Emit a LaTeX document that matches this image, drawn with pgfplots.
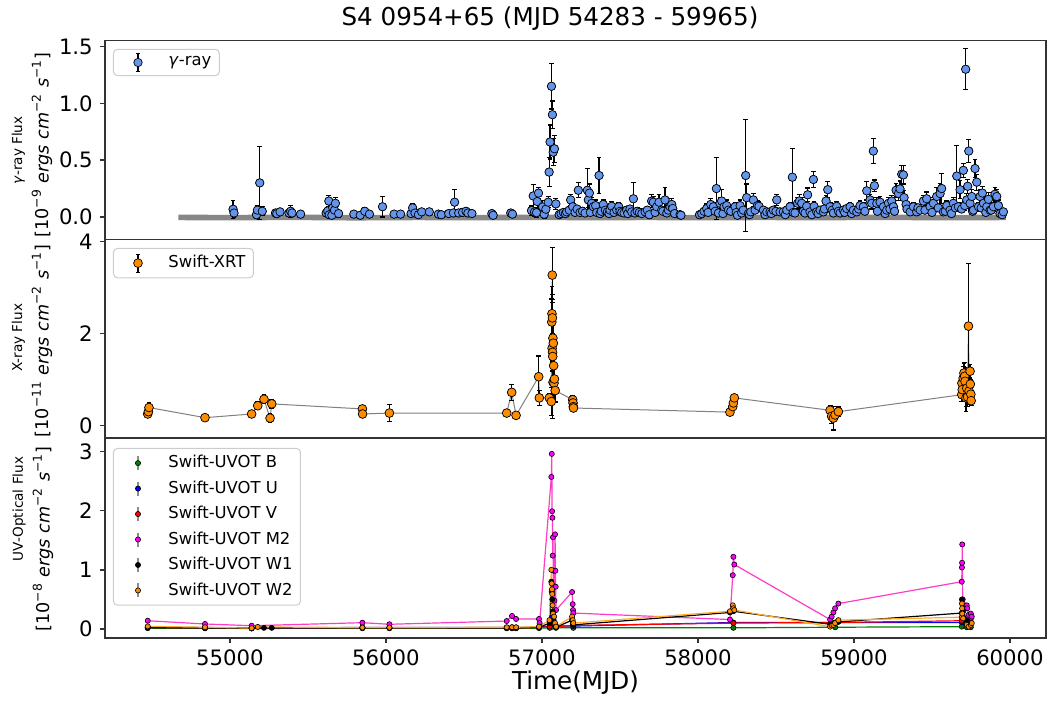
\documentclass[border=0pt]{standalone}
\usepackage{fontspec}
\setmainfont{DejaVu Sans}
\usepackage{pgfplots}
\usepackage{pgfplotstable}
\pgfplotsset{compat=1.18}

\definecolor{gblue}{RGB}{100,149,237}
\definecolor{xorange}{RGB}{255,140,0}
\definecolor{ugreen}{RGB}{0,128,0}
\definecolor{ublue}{RGB}{0,0,255}
\definecolor{ured}{RGB}{255,0,0}
\definecolor{umag}{RGB}{255,0,255}
\definecolor{umagline}{RGB}{255,60,200}
\definecolor{uorline}{RGB}{255,170,40}
\definecolor{lowgray}{RGB}{135,135,135}

% gamma-ray light curve: MJD, flux, error
\pgfplotstableread{
x y e
55020 0.068 0.08
55026 0.035 0.04
55170 0.02 0.03
55176 0.06 0.04
55191 0.30 0.32
55207 0.05 0.04
55292 0.035 0.03
55300 0.03 0.03
55321 0.045 0.03
55378 0.035 0.03
55389 0.05 0.05
55398 0.035 0.03
55453 0.025 0.02
55617 0.035 0.03
55627 0.053 0.03
55634 0.14 0.05
55636 0.02 0.03
55653 0.015 0.02
55659 0.08 0.04
55670 0.06 0.03
55676 0.12 0.05
55696 0.03 0.03
55794 0.025 0.02
55835 0.015 0.02
55864 0.05 0.03
55894 0.025 0.02
55978 0.09 0.09
56052 0.025 0.02
56094 0.025 0.02
56161 0.03 0.02
56171 0.08 0.04
56186 0.035 0.03
56208 0.02 0.02
56229 0.045 0.03
56278 0.045 0.03
56336 0.025 0.02
56355 0.02 0.02
56402 0.03 0.02
56432 0.035 0.03
56440 0.13 0.11
56466 0.035 0.03
56491 0.04 0.03
56513 0.05 0.03
56525 0.035 0.03
56551 0.03 0.02
56679 0.03 0.02
56687 0.015 0.02
56800 0.035 0.03
56811 0.025 0.02
56933 0.056 0.04
56944 0.185 0.1
56952 0.044 0.04
56965 0.038 0.04
56970 0.136 0.06
56978 0.21 0.05
57004 0.088 0.06
57014 0.024 0.04
57025 0.068 0.05
57040 0.13 0.05
57046 0.395 0.13
57052 0.66 0.15
57061 1.15 0.2
57067 0.90 0.12
57072 0.57 0.12
57080 0.60 0.12
57089 0.115 0.05
57110 0.02 0.02
57122 0.03 0.02
57137 0.04 0.02
57150 0.03 0.02
57158 0.045 0.03
57175 0.06 0.03
57184 0.15 0.05
57197 0.09 0.04
57212 0.04 0.03
57225 0.07 0.03
57233 0.235 0.065
57244 0.04 0.03
57260 0.05 0.03
57276 0.035 0.03
57291 0.235 0.19
57297 0.15 0.07
57304 0.21 0.08
57310 0.04 0.03
57319 0.12 0.05
57329 0.09 0.04
57344 0.10 0.05
57351 0.04 0.03
57366 0.365 0.16
57372 0.03 0.03
57380 0.05 0.03
57393 0.11 0.04
57406 0.06 0.03
57419 0.045 0.03
57430 0.03 0.02
57436 0.06 0.03
57447 0.094 0.04
57462 0.04 0.03
57479 0.06 0.03
57492 0.09 0.04
57500 0.05 0.03
57511 0.04 0.03
57526 0.035 0.03
57543 0.06 0.03
57550 0.03 0.02
57564 0.07 0.03
57575 0.045 0.03
57586 0.16 0.14
57596 0.035 0.03
57610 0.05 0.03
57624 0.04 0.03
57640 0.03 0.02
57661 0.045 0.03
57675 0.06 0.03
57688 0.02 0.03
57703 0.14 0.06
57714 0.13 0.05
57725 0.04 0.03
57735 0.09 0.04
57750 0.13 0.07
57767 0.06 0.03
57775 0.05 0.03
57789 0.15 0.11
57800 0.035 0.03
57810 0.06 0.03
57821 0.09 0.04
57832 0.11 0.05
57838 0.075 0.04
57850 0.03 0.02
57885 0.02 0.02
57891 0.015 0.02
58010 0.02 0.02
58024 0.03 0.03
58039 0.05 0.03
58056 0.074 0.04
58065 0.04 0.03
58082 0.11 0.05
58099 0.09 0.04
58110 0.05 0.03
58118 0.25 0.27
58131 0.035 0.03
58141 0.12 0.05
58152 0.14 0.1
58160 0.03 0.02
58167 0.09 0.04
58184 0.10 0.05
58195 0.06 0.03
58210 0.05 0.03
58238 0.09 0.04
58245 0.04 0.03
58253 0.015 0.02
58270 0.10 0.05
58280 0.035 0.03
58290 0.06 0.03
58306 0.365 0.49
58312 0.17 0.12
58323 0.03 0.03
58330 0.02 0.02
58338 0.045 0.03
58355 0.15 0.06
58366 0.06 0.03
58381 0.10 0.04
58391 0.094 0.04
58419 0.06 0.03
58430 0.02 0.02
58441 0.045 0.03
58462 0.045 0.03
58470 0.03 0.02
58483 0.06 0.03
58500 0.05 0.03
58505 0.15 0.05
58526 0.045 0.03
58547 0.045 0.03
58560 0.02 0.02
58569 0.06 0.03
58590 0.09 0.04
58605 0.35 0.25
58610 0.04 0.03
58622 0.035 0.03
58639 0.12 0.05
58650 0.14 0.06
58665 0.12 0.05
58675 0.05 0.03
58686 0.035 0.03
58697 0.094 0.04
58703 0.195 0.06
58718 0.045 0.03
58730 0.02 0.02
58740 0.33 0.07
58744 0.094 0.04
58761 0.045 0.03
58770 0.03 0.02
58783 0.06 0.03
58804 0.045 0.03
58810 0.07 0.03
58821 0.14 0.05
58832 0.24 0.07
58847 0.09 0.04
58860 0.06 0.03
58868 0.035 0.03
58889 0.094 0.04
58900 0.05 0.03
58911 0.035 0.03
58932 0.06 0.03
58940 0.04 0.03
58953 0.074 0.03
58975 0.09 0.04
58985 0.03 0.02
58996 0.06 0.03
59018 0.045 0.03
59030 0.07 0.03
59039 0.10 0.04
59060 0.09 0.04
59070 0.05 0.03
59082 0.23 0.08
59103 0.15 0.05
59114 0.12 0.05
59124 0.58 0.11
59131 0.275 0.05
59146 0.12 0.05
59150 0.05 0.03
59167 0.13 0.05
59189 0.09 0.04
59200 0.03 0.02
59210 0.06 0.03
59221 0.12 0.05
59230 0.07 0.03
59242 0.14 0.05
59253 0.09 0.04
59260 0.05 0.03
59270 0.235 0.06
59285 0.206 0.06
59295 0.247 0.07
59306 0.376 0.08
59317 0.37 0.08
59321 0.17 0.06
59334 0.11 0.05
59340 0.07 0.03
59360 0.045 0.03
59381 0.09 0.04
59402 0.045 0.03
59410 0.08 0.03
59424 0.06 0.03
59445 0.14 0.05
59455 0.06 0.03
59466 0.16 0.06
59488 0.09 0.04
59500 0.04 0.03
59509 0.12 0.05
59530 0.18 0.08
59540 0.08 0.03
59552 0.206 0.09
59562 0.25 0.13
59573 0.045 0.03
59585 0.05 0.03
59595 0.10 0.04
59616 0.06 0.03
59625 0.03 0.02
59637 0.12 0.05
59650 0.08 0.03
59659 0.36 0.27
59669 0.09 0.04
59680 0.24 0.08
59690 0.07 0.03
59701 0.41 0.06
59710 0.10 0.04
59716 1.30 0.18
59723 0.15 0.06
59729 0.27 0.06
59736 0.58 0.10
59744 0.12 0.05
59755 0.18 0.06
59760 0.05 0.03
59766 0.06 0.03
59776 0.426 0.08
59787 0.306 0.07
59798 0.09 0.04
59808 0.18 0.06
59815 0.08 0.03
59823 0.21 0.06
59830 0.12 0.05
59845 0.04 0.03
59851 0.09 0.04
59862 0.155 0.06
59872 0.06 0.03
59880 0.06 0.03
59894 0.09 0.04
59904 0.20 0.06
59915 0.18 0.06
59926 0.10 0.05
59936 0.03 0.03
59950 0.02 0.02
59958 0.045 0.03
}\gam

% low-significance gamma-ray bins (grey band)
\pgfplotstableread{
x y
54669 -0.004
55000 -0.006
55400 -0.003
55800 -0.007
56200 -0.004
56600 -0.006
56930 -0.003
57300 -0.005
57700 -0.004
58000 -0.006
58400 -0.004
58800 -0.005
59200 -0.003
59600 -0.006
59975 -0.004
}\gamlow

% Swift-XRT
\pgfplotstableread{
x y e
54473 0.25 0.08
54477 0.30 0.08
54481 0.39 0.10
54840 0.17 0.05
55139 0.25 0.06
55178 0.43 0.08
55218 0.57 0.10
55257 0.16 0.10
55268 0.47 0.10
55849 0.36 0.08
55850 0.25 0.08
56022 0.27 0.19
56774 0.27 0.08
56806 0.72 0.17
56834 0.22 0.06
56979 1.06 0.45
56983 0.60 0.16
57047 0.60 0.10
57060 0.52 0.30
57063 2.25 0.50
57064 2.43 0.60
57065 1.68 0.50
57066 3.27 0.60
57067 2.34 0.40
57068 1.59 0.40
57069 1.50 1.34
57070 1.90 0.50
57071 0.94 0.30
57073 1.79 0.50
57075 1.30 0.30
57077 0.92 0.30
57080 1.01 0.30
57085 0.76 0.25
57197 0.56 0.10
57199 0.49 0.08
57201 0.41 0.08
57202 0.38 0.06
58205 0.29 0.05
58223 0.41 0.06
58227 0.49 0.06
58233 0.60 0.08
58847 0.33 0.10
58857 0.20 0.15
58868 0.16 0.26
58879 0.23 0.10
58900 0.30 0.10
59691 0.67 0.15
59692 0.92 0.20
59694 0.78 0.20
59700 1.03 0.25
59705 1.14 0.20
59710 1.07 0.30
59712 0.96 0.30
59718 0.60 0.30
59723 0.81 0.40
59728 0.62 0.20
59734 2.16 1.37
59738 0.75 0.30
59744 1.18 0.15
59746 0.90 0.10
59749 0.68 0.10
59751 0.54 0.10
}\xrt

% Swift-UVOT filters
\pgfplotstableread{
x y
54473 0.015
54840 0.012
55139 0.010
55849 0.012
56022 0.012
56774 0.012
56808 0.012
56834 0.012
56981 0.015
57050 0.02
57063 0.06
57069 0.04
57090 0.02
57201 0.02
58227 0.02
58880 0.03
59691 0.04
59723 0.03
59749 0.03
}\uvb
\pgfplotstableread{
x y
54473 0.030
54840 0.025
55139 0.020
55849 0.025
56022 0.025
56774 0.025
56808 0.030
56834 0.025
56981 0.030
57050 0.05
57063 0.20
57069 0.12
57090 0.05
57201 0.05
58227 0.11
58880 0.11
59691 0.11
59723 0.10
59749 0.10
}\uvu
\pgfplotstableread{
x y
54473 0.025
54840 0.020
55139 0.020
55849 0.020
56022 0.020
56774 0.020
56808 0.025
56834 0.020
56981 0.025
57050 0.04
57063 0.15
57069 0.10
57090 0.04
57201 0.06
58227 0.10
58880 0.11
59691 0.14
59723 0.13
59749 0.12
}\uvv
\pgfplotstableread{
x y
54473 0.14
54840 0.085
55139 0.056
55849 0.107
56022 0.08
56774 0.135
56808 0.22
56834 0.17
56981 0.17
56985 0.10
57060 2.57
57063 2.96
57065 1.99
57067 1.88
57069 1.24
57071 1.55
57073 0.73
57076 0.985
57080 0.48
57084 1.60
57086 0.985
57088 0.715
57090 0.32
57193 0.625
57197 0.42
57199 0.32
57201 0.27
58205 0.16
58223 0.91
58227 1.22
58233 1.09
58847 0.16
58857 0.21
58868 0.28
58879 0.35
58900 0.43
59691 0.80
59692 1.04
59693 1.12
59694 1.43
59697 0.50
59723 0.40
59726 0.35
59735 0.24
59749 0.26
59752 0.19
59755 0.21
}\uvmtwo
\pgfplotstableread{
x y
54473 0.02
54840 0.02
55139 0.01
55218 0.02
55268 0.02
55849 0.02
56022 0.02
56774 0.02
56808 0.02
56834 0.02
56981 0.03
57050 0.10
57060 0.80
57063 0.63
57066 0.50
57069 0.30
57075 0.15
57085 0.06
57090 0.03
57193 0.15
57197 0.10
57201 0.07
58205 0.28
58223 0.32
58227 0.30
58847 0.08
58868 0.09
58900 0.12
59691 0.27
59692 0.50
59700 0.30
59723 0.15
59749 0.10
}\uvwone
\pgfplotstableread{
x y
54473 0.045
54840 0.03
55139 0.015
55178 0.035
55849 0.025
56022 0.025
56774 0.03
56808 0.03
56834 0.03
56981 0.04
57048 0.15
57060 1.00
57062 0.77
57064 0.67
57066 0.59
57068 0.40
57071 0.26
57078 0.21
57084 0.10
57090 0.04
57193 0.21
57197 0.15
57201 0.10
58205 0.30
58223 0.40
58227 0.35
58233 0.32
58847 0.04
58857 0.06
58868 0.07
58879 0.10
58900 0.15
59691 0.20
59692 0.43
59693 0.35
59694 0.26
59700 0.18
59723 0.07
59735 0.04
59749 0.07
59755 0.10
}\uvwtwo

\pgfplotsset{
  panel/.style={
    scale only axis, width=470.5pt,
    xmin=54199, xmax=60231,
    axis line style={black!80, line width=0.65pt},
    tick style={black!80, line width=0.65pt},
    tick align=outside, major tick length=2.6pt,
    ytick pos=left, xtick pos=bottom,
    scaled x ticks=false, scaled y ticks=false,
    tick label style={font=\fontsize{10.6}{12}\selectfont},
    /pgf/number format/assume math mode=true,
    /pgf/number format/1000 sep={},
    legend cell align=left,
    legend style={at={(0,1)}, anchor=north west, xshift=4pt,
      draw=black!20, line width=0.5pt, rounded corners=2pt, fill=white,
      font=\fontsize{8.2}{9.8}\selectfont, inner xsep=2pt, inner ysep=1.5pt,
      row sep=1pt},
  },
  errbar/.style={
    error bars/.cd, y dir=both, y explicit,
    error bar style={black, line width=0.6pt},
    error mark options={rotate=90, black, mark size=1.2pt, line width=0.6pt},
  },
  errleg/.style={legend image code/.code={
    \draw[black, line width=0.6pt] (10pt,-4.5pt) -- (10pt,4.5pt)
      (8.8pt,-4.5pt) -- (11.2pt,-4.5pt) (8.8pt,4.5pt) -- (11.2pt,4.5pt);
    \draw[##1] plot coordinates {(10pt,0pt)};
    \path (0pt,0pt) (23pt,0pt);}},
  uvleg/.style={legend image code/.code={
    \draw[black!45, line width=0.6pt] (10pt,-3.5pt) -- (10pt,3.5pt);
    \draw[##1] plot coordinates {(10pt,0pt)};
    \path (0pt,0pt) (23pt,0pt);}},
  uvmark/.style={only marks, mark=*, mark size=1.3pt,
    mark options={fill=#1, draw=black, line width=0.3pt}, uvleg},
}

\begin{document}
\begin{tikzpicture}
\path[use as bounding box] (-52.5pt,-31.5pt) rectangle (472pt,318.95pt);

% UV-optical panel
\begin{axis}[panel, at={(0pt,0pt)}, anchor=south west, height=100pt,
  ymin=-0.15, ymax=3.23, ytick={0,1,2,3},
  xtick={55000,56000,57000,58000,59000,60000},
  legend style={yshift=-5pt}]
\addplot[ugreen, line width=0.6pt, forget plot] table[x=x,y=y]{\uvb};
\addplot[uvmark=ugreen] table[x=x,y=y]{\uvb};
\addlegendentry{Swift-UVOT B}
\addplot[ublue, line width=0.6pt, forget plot] table[x=x,y=y]{\uvu};
\addplot[uvmark=ublue] table[x=x,y=y]{\uvu};
\addlegendentry{Swift-UVOT U}
\addplot[ured, line width=0.6pt, forget plot] table[x=x,y=y]{\uvv};
\addplot[uvmark=ured] table[x=x,y=y]{\uvv};
\addlegendentry{Swift-UVOT V}
\addplot[umagline, line width=0.6pt, forget plot] table[x=x,y=y]{\uvmtwo};
\addplot[uvmark=umag] table[x=x,y=y]{\uvmtwo};
\addlegendentry{Swift-UVOT M2}
\addplot[black, line width=0.6pt, forget plot] table[x=x,y=y]{\uvwone};
\addplot[uvmark=black] table[x=x,y=y]{\uvwone};
\addlegendentry{Swift-UVOT W1}
\addplot[uorline, line width=0.6pt, forget plot] table[x=x,y=y]{\uvwtwo};
\addplot[uvmark=xorange] table[x=x,y=y]{\uvwtwo};
\addlegendentry{Swift-UVOT W2}
\end{axis}

% X-ray panel
\begin{axis}[panel, at={(0pt,100pt)}, anchor=south west, height=99.1pt,
  ymin=-0.27, ymax=4.04, ytick={0,2,4}, xtick=\empty,
  legend style={yshift=-4.1pt}]
\addplot[gray, line width=0.5pt, forget plot] table[x=x,y=y]{\xrt};
\addplot[only marks, mark=none, forget plot, errbar] table[x=x,y=y,y error=e]{\xrt};
\addplot[only marks, mark=*, mark size=2.2pt,
  mark options={fill=xorange, draw=black, line width=0.35pt}, errleg]
  table[x=x,y=y]{\xrt};
\addlegendentry{Swift-XRT}
\end{axis}

% gamma-ray panel
\begin{axis}[panel, at={(0pt,199.1pt)}, anchor=south west, height=99.6pt,
  ymin=-0.2, ymax=1.553, ytick={0,0.5,1,1.5}, xtick=\empty,
  yticklabel style={/pgf/number format/.cd, fixed, fixed zerofill, precision=1},
  legend style={yshift=-4.2pt}]
\addplot[lowgray, line width=2.8pt, forget plot] table[x=x,y=y]{\gamlow};
\addplot[only marks, mark=none, forget plot, errbar] table[x=x,y=y,y error=e]{\gam};
\addplot[only marks, mark=*, mark size=2.1pt,
  mark options={fill=gblue, draw=black, line width=0.35pt}, errleg]
  table[x=x,y=y]{\gam};
\addlegendentry{\textit{γ}-ray}
\end{axis}

% titles and axis labels
\node[anchor=base, font=\fontsize{12.3}{14}\selectfont] at (222.5pt,306pt)
  {S4 0954+65 (MJD 54283 - 59965)};
\node[anchor=base, font=\fontsize{12.3}{14}\selectfont] at (235.25pt,-26pt) {Time(MJD)};

\node[rotate=90, font=\fontsize{6.8}{8}\selectfont] at (-43.25pt,243.75pt) {\textit{γ}-ray Flux};
\node[rotate=90, font=\fontsize{8.8}{10}\selectfont] at (-31.5pt,246.5pt)
  {[10\textsuperscript{−9} \textit{ergs cm}\textsuperscript{−2} \textit{s}\textsuperscript{−1}]};
\node[rotate=90, font=\fontsize{6.8}{8}\selectfont] at (-43.25pt,150pt) {X-ray Flux};
\node[rotate=90, font=\fontsize{8.8}{10}\selectfont] at (-31.5pt,148.5pt)
  {[10\textsuperscript{−11} \textit{ergs cm}\textsuperscript{−2} \textit{s}\textsuperscript{−1}]};
\node[rotate=90, font=\fontsize{6.8}{8}\selectfont] at (-43pt,64.5pt) {UV-Optical Flux};
\node[rotate=90, font=\fontsize{8.8}{10}\selectfont] at (-31pt,49.5pt)
  {[10\textsuperscript{−8} \textit{ergs cm}\textsuperscript{−2} \textit{s}\textsuperscript{−1}]};
\end{tikzpicture}
\end{document}
